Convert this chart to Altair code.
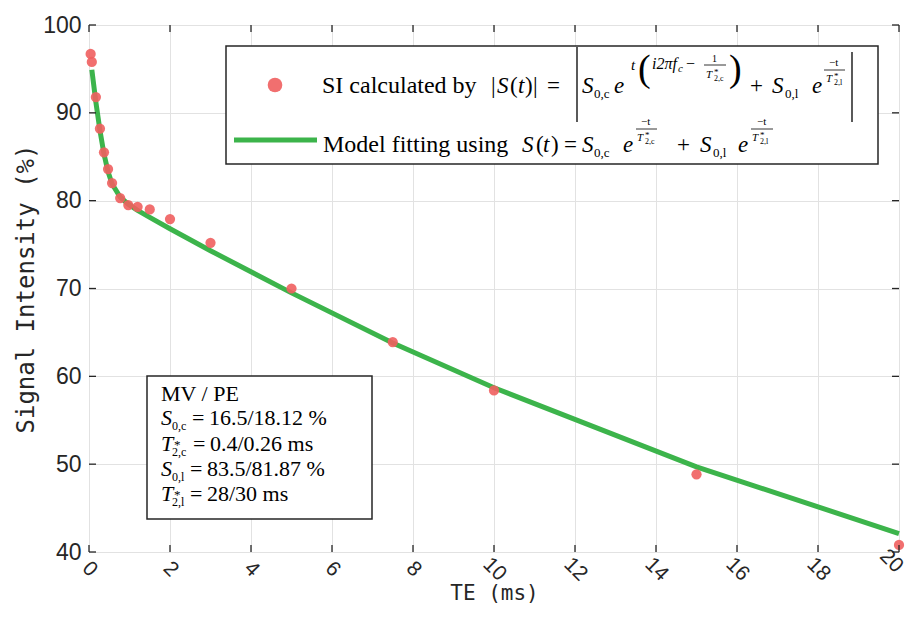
import altair as alt
import pandas as pd

# ---------------- data ----------------
te_points = [0.04, 0.07, 0.17, 0.27, 0.37, 0.47, 0.57, 0.77, 0.97, 1.2, 1.5, 2, 3, 5, 7.5, 10, 15, 20]
si_points = [96.7, 95.8, 91.8, 88.2, 85.5, 83.6, 82.0, 80.3, 79.5, 79.3, 79.0, 77.9, 75.2, 70.0, 63.9, 58.4, 48.85, 40.8]

te_fit = [0.07, 0.17, 0.27, 0.37, 0.47, 0.57, 0.77, 0.97, 1.2, 1.5, 2, 3, 5, 7.5, 10, 15, 20]
si_fit = [94.9, 91.2, 88.0, 85.3, 83.3, 81.9, 80.4, 79.6, 78.9, 78.1, 76.8, 74.3, 69.5, 63.8, 58.7, 49.7, 42.1]

x_ticks = [0, 2, 4, 6, 8, 10, 12, 14, 16, 18, 20]
y_ticks = [40, 50, 60, 70, 80, 90, 100]

box_values = ["16.5/18.12 %", "0.4/0.26 ms", "83.5/81.87 %", "28/30 ms"]

# ---------------- layout ----------------
W, H = 810, 527
OX, OY = 89, 25          # plot-area origin on the page
RED = "#ef5f5f"
GREEN = "#3cb44b"
INK = "#262626"
SERIF = "Liberation Serif"

pts = pd.DataFrame({"te": te_points, "si": si_points})
fit = pd.DataFrame({"te": te_fit, "si": si_fit})

xscale = alt.Scale(domain=[0, 20], nice=False, zero=False)
yscale = alt.Scale(domain=[40, 100], nice=False, zero=False)

last_x = x_ticks[-1]
xaxis = alt.Axis(values=x_ticks, title="TE (ms)", labelAngle=45, labelAlign="center",
                 labelBaseline="middle", labelPadding=17, ticks=False, domain=False,
                 labelExpr=f"datum.value == {last_x} ? '' : datum.label",
                 labelFont="Liberation Sans", labelFontSize=21, labelColor=INK,
                 titleFont="DejaVu Sans Mono", titleFontSize=21, titleFontWeight="normal",
                 titleColor=INK, titleY=47, titleBaseline="alphabetic",
                 grid=True, gridColor="#e2e2e2", gridWidth=1)
yaxis = alt.Axis(values=y_ticks, title="Signal Intensity (%)", ticks=False, domain=False,
                 labelPadding=8, labelFont="Liberation Sans", labelFontSize=23, labelColor=INK,
                 titleFont="DejaVu Sans Mono", titleFontSize=24, titleFontWeight="normal",
                 titleColor=INK, titleX=-63, titleY=H / 2, titleBaseline="middle",
                 grid=True, gridColor="#e2e2e2", gridWidth=1)

line = alt.Chart(fit).mark_line(color=GREEN, strokeWidth=5).encode(
    x=alt.X("te:Q", scale=xscale, axis=xaxis),
    y=alt.Y("si:Q", scale=yscale, axis=yaxis),
)
points = alt.Chart(pts).mark_circle(color=RED, opacity=0.9, size=105).encode(
    x=alt.X("te:Q", scale=xscale),
    y=alt.Y("si:Q", scale=yscale),
)

# last x tick label, nudged inwards so it stays on the page
last_label = alt.Chart(pd.DataFrame({"v": [last_x], "t": [str(last_x)]})).mark_text(
    font="Liberation Sans", fontSize=21, color=INK, angle=45, align="center",
    baseline="middle", dx=-11).encode(
    x=alt.X("v:Q", scale=xscale), y=alt.value(H + 17), text="t:N")

# inward ticks on all four sides
xt = pd.DataFrame({"v": x_ticks})
yt = pd.DataFrame({"v": y_ticks})
TL = 7
tick_layers = [
    alt.Chart(xt).mark_rule(color=INK, strokeWidth=1.3).encode(
        x=alt.X("v:Q", scale=xscale), y=alt.value(H), y2=alt.value(H - TL)),
    alt.Chart(xt).mark_rule(color=INK, strokeWidth=1.3).encode(
        x=alt.X("v:Q", scale=xscale), y=alt.value(0), y2=alt.value(TL)),
    alt.Chart(yt).mark_rule(color=INK, strokeWidth=1.3).encode(
        y=alt.Y("v:Q", scale=yscale), x=alt.value(0), x2=alt.value(TL)),
    alt.Chart(yt).mark_rule(color=INK, strokeWidth=1.3).encode(
        y=alt.Y("v:Q", scale=yscale), x=alt.value(W), x2=alt.value(W - TL)),
]

# ---------------- annotation boxes (page pixel coordinates) ----------------
boxes = pd.DataFrame({
    "x": [226 - OX, 147 - OX], "x2": [878 - OX, 372 - OX],
    "y": [46 - OY, 376 - OY], "y2": [164 - OY, 519 - OY],
})
box_layer = alt.Chart(boxes).mark_rect(fill="white", stroke=INK, strokeWidth=1.5).encode(
    x=alt.X("x:Q", scale=None, axis=None), x2="x2:Q",
    y=alt.Y("y:Q", scale=None, axis=None), y2="y2:Q",
)

leg_marker = alt.Chart(pd.DataFrame({"x": [275 - OX], "y": [85 - OY]})).mark_circle(
    color=RED, opacity=0.9, size=215).encode(
    x=alt.X("x:Q", scale=None, axis=None), y=alt.Y("y:Q", scale=None, axis=None))
leg_line = alt.Chart(pd.DataFrame({"x": [234 - OX], "x2": [317 - OX], "y": [140 - OY]})).mark_rule(
    color=GREEN, strokeWidth=5).encode(
    x=alt.X("x:Q", scale=None, axis=None), x2="x2:Q", y=alt.Y("y:Q", scale=None, axis=None))

roman = []
italic = []


def R(t, x, y, s):
    roman.append({"t": t, "x": x - OX, "y": y - OY, "s": s})


def I(t, x, y, s):
    italic.append({"t": t, "x": x - OX, "y": y - OY, "s": s})


rules = []


def bar(x1, x2, y1, y2, w=1.0):
    rules.append({"x": x1 - OX, "x2": x2 - OX, "y": y1 - OY, "y2": y2 - OY, "w": w})


# legend row 1
B = 93
R("SI calculated by", 322, B, 24)
R("|", 491, B, 23); I("S", 497, B, 23); R("(", 510, B, 23); I("t", 518, B, 23)
R(")", 525, B, 23); R("|", 533, B, 23); R("=", 547, B, 23)
bar(577, 577, 47, 122, 1.3)
I("S", 582, B, 23); R("0,c", 594, B + 5, 13)
I("e", 614, B, 23)
I("t", 631, 70, 15)
R("(", 638, 81, 38)
I("i2πf", 652, 69, 16); I("c", 678, 72, 11); R("−", 686, 69, 16)
R("1", 712, 62, 10)
bar(704, 726, 65, 65, 0.8)
I("T", 706, 78, 11); R("*", 714, 75, 9); R("2,c", 714, 81, 8)
R(")", 729, 81, 38)
R("+", 750, B, 23)
I("S", 772, B, 23); R("0,l", 785, B + 5, 13)
I("e", 812, B, 23)
R("−t", 829, 66, 11)
bar(824, 845, 70, 70, 0.8)
I("T", 826, 82, 11); R("*", 834, 79, 9); R("2,l", 834, 85, 8)
bar(852, 852, 52, 122, 1.3)

# legend row 2
B2 = 152
R("Model fitting using", 323, B2, 24)
I("S", 522, B2, 23); R("(", 536, B2, 23); I("t", 543, B2, 23); R(")", 551, B2, 23)
R("=", 564, B2, 23)
I("S", 582, B2, 23); R("0,c", 594, B2 + 5, 13)
I("e", 623, B2, 23)
R("−t", 641, 125, 11)
bar(636, 657, 129, 129, 0.8)
I("T", 637, 141, 11); R("*", 645, 138, 9); R("2,c", 645, 144, 8)
R("+", 677, B2, 23)
I("S", 700, B2, 23); R("0,l", 713, B2 + 5, 13)
I("e", 738, B2, 23)
R("−t", 757, 125, 11)
bar(751, 773, 129, 129, 0.8)
I("T", 752, 141, 11); R("*", 760, 138, 9); R("2,l", 760, 144, 8)

# parameter box
R("MV / PE", 161, 401, 22)
I("S", 161, 425, 22); R("0,c", 172, 430, 12); R("=", 192, 425, 22); R(box_values[0], 209, 425, 22)
I("T", 161, 451, 22); R("*", 174, 449, 13); R("2,c", 172, 456, 12); R("=", 193, 451, 22); R(box_values[1], 210, 451, 22)
I("S", 161, 476, 22); R("0,l", 172, 481, 12); R("=", 190, 476, 22); R(box_values[2], 207, 476, 22)
I("T", 161, 501, 22); R("*", 174, 499, 13); R("2,l", 172, 506, 12); R("=", 190, 501, 22); R(box_values[3], 207, 501, 22)


def text_layer(rows, style):
    return alt.Chart(pd.DataFrame(rows)).mark_text(
        font=SERIF, fontStyle=style, align="left", baseline="alphabetic", color="black").encode(
        x=alt.X("x:Q", scale=None, axis=None),
        y=alt.Y("y:Q", scale=None, axis=None),
        size=alt.Size("s:Q", scale=None, legend=None),
        text="t:N",
    )


rule_layer = alt.Chart(pd.DataFrame(rules)).mark_rule(color="black").encode(
    x=alt.X("x:Q", scale=None, axis=None), x2="x2:Q",
    y=alt.Y("y:Q", scale=None, axis=None), y2="y2:Q",
    strokeWidth=alt.StrokeWidth("w:Q", scale=None, legend=None),
)

chart = alt.layer(
    line, points, *tick_layers, last_label, box_layer, leg_marker, leg_line,
    text_layer(roman, "normal"), text_layer(italic, "italic"), rule_layer,
).properties(
    width=W, height=H,
    autosize=alt.AutoSizeParams(type="none"),
    padding={"left": 81, "top": 17, "right": 6, "bottom": 51},
).configure_view(stroke=INK, strokeWidth=1.5).configure(background="white")

chart.save("out.html", embed_options={"renderer": "svg", "actions": False})
